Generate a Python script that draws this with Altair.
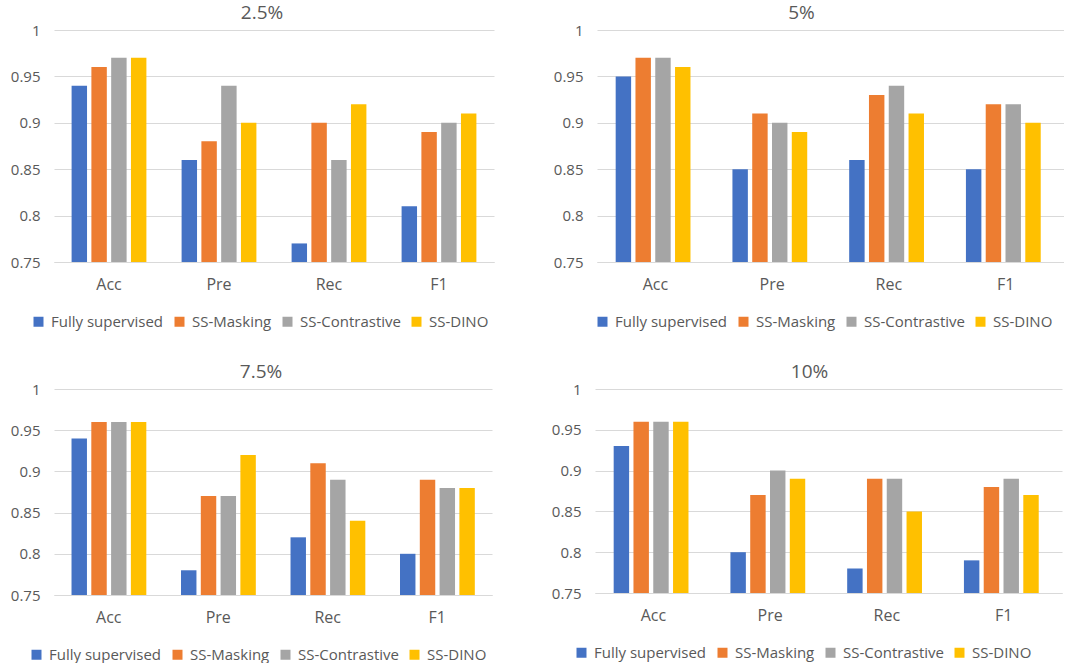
import altair as alt
import pandas as pd

metrics = ["Acc", "Pre", "Rec", "F1"]
methods = ["Fully supervised", "SS-Masking", "SS-Contrastive", "SS-DINO"]
colors = ["#4472C4", "#ED7D31", "#A5A5A5", "#FFC000"]
y_ticks = [0.75, 0.8, 0.85, 0.9, 0.95, 1.0]

# 2.5%
p25_fully = [0.94, 0.86, 0.77, 0.81]
p25_masking = [0.96, 0.88, 0.90, 0.89]
p25_contrastive = [0.97, 0.94, 0.86, 0.90]
p25_dino = [0.97, 0.90, 0.92, 0.91]
# 5%
p5_fully = [0.95, 0.85, 0.86, 0.85]
p5_masking = [0.97, 0.91, 0.93, 0.92]
p5_contrastive = [0.97, 0.90, 0.94, 0.92]
p5_dino = [0.96, 0.89, 0.91, 0.90]
# 7.5%
p75_fully = [0.94, 0.78, 0.82, 0.80]
p75_masking = [0.96, 0.87, 0.91, 0.89]
p75_contrastive = [0.96, 0.87, 0.89, 0.88]
p75_dino = [0.96, 0.92, 0.84, 0.88]
# 10%
p10_fully = [0.93, 0.80, 0.78, 0.79]
p10_masking = [0.96, 0.87, 0.89, 0.88]
p10_contrastive = [0.96, 0.90, 0.89, 0.89]
p10_dino = [0.96, 0.89, 0.85, 0.87]

FONT = "Open Sans"
TXT = "#595959"
GRID = "#D9D9D9"


def panel(title, series, width, height, dx, legend_x):
    rows = []
    for m, vals in zip(methods, series):
        for k, v in zip(metrics, vals):
            rows.append({"metric": k, "method": m, "value": v})
    df = pd.DataFrame(rows)
    return alt.Chart(df).mark_bar().encode(
        x=alt.X("metric:N", sort=metrics,
                scale=alt.Scale(paddingInner=0.32, paddingOuter=0.16),
                axis=alt.Axis(title=None, labelAngle=0, ticks=False, domainColor=GRID,
                              labelPadding=14, labelFontSize=16, labelColor=TXT, labelFont=FONT)),
        xOffset=alt.XOffset("method:N", sort=methods, scale=alt.Scale(paddingInner=0.22)),
        y=alt.Y("value:Q", scale=alt.Scale(domain=[0.75, 1.0], zero=False, nice=False),
                axis=alt.Axis(title=None, values=y_ticks, format="~g", domain=False, ticks=False,
                              gridColor=GRID, labelPadding=14, labelFontSize=15,
                              labelColor=TXT, labelFont=FONT)),
        y2=alt.datum(0.75),
        color=alt.Color("method:N", sort=methods,
                        scale=alt.Scale(domain=methods, range=colors),
                        legend=alt.Legend(title=None, orient="none", legendX=legend_x,
                                          legendY=height + 52, direction="horizontal",
                                          symbolType="square", symbolSize=100,
                                          symbolStrokeWidth=0, labelFontSize=15,
                                          labelColor=TXT, labelFont=FONT,
                                          columnPadding=8, labelOffset=5)),
    ).properties(
        width=width, height=height,
        title=alt.TitleParams(title, dx=dx, fontSize=19, fontWeight="normal",
                              color=TXT, font=FONT, offset=0),
    )


c1 = panel("2.5%", [p25_fully, p25_masking, p25_contrastive, p25_dino], 440, 232, -12, -23)
c2 = panel("5%", [p5_fully, p5_masking, p5_contrastive, p5_dino], 467, 232, -29, -2)
c3 = panel("7.5%", [p75_fully, p75_masking, p75_contrastive, p75_dino], 438, 206, -12, -25)
c4 = panel("10%", [p10_fully, p10_masking, p10_contrastive, p10_dino], 467, 204, -19, -21)

row1 = alt.hconcat(c1, c2, spacing=59).resolve_scale(color="independent")
row2 = alt.hconcat(c3, c4, spacing=59).resolve_scale(color="independent")

chart = alt.vconcat(row1, row2, spacing=33).resolve_scale(color="independent").properties(
    padding={"left": 10, "top": 4, "right": 0, "bottom": 0},
    background="white",
).configure_view(stroke=None)

chart.save("out.html", embed_options={"renderer": "svg", "actions": False})
